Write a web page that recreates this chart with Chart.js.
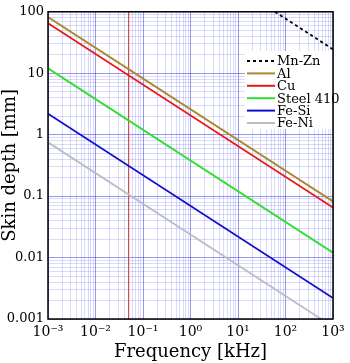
<!DOCTYPE html>
<html>
<head>
<meta charset="utf-8">
<script src="https://cdn.jsdelivr.net/npm/chart.js@4/dist/chart.umd.min.js"></script>
<style>
  html, body { margin: 0; padding: 0; background: #fff; }
  #wrap { width: 350px; height: 363px; }
</style>
</head>
<body>
<div id="wrap"><canvas id="skinChart"></canvas></div>
<script>
// skin depth [mm] vs frequency [kHz] (straight lines on log-log)
const materials = ['Mn-Zn', 'Al', 'Cu', 'Steel 410', 'Fe-Si', 'Fe-Ni'];
const freqMnZn = [60, 1000];
const depthMnZn = [100, 24.5];
const freqAl = [0.001, 1000];
const depthAl = [82, 0.082];
const freqCu = [0.001, 1000];
const depthCu = [65, 0.065];
const freqSteel = [0.001, 1000];
const depthSteel = [12, 0.012];
const freqFeSi = [0.001, 1000];
const depthFeSi = [2.2, 0.0022];
const freqFeNi = [0.001, 562];
const depthFeNi = [0.75, 0.001];
// 50 Hz marker
const markerFreq = [0.05, 0.05];
const markerDepth = [0.001, 100];

const xTickLabels = { '-3': '10⁻³', '-2': '10⁻²', '-1': '10⁻¹', '0': '10⁰', '1': '10¹', '2': '10²', '3': '10³' };
const yTickLabels = { '-3': '0.001', '-2': '0.01', '-1': '0.1', '0': '1', '1': '10', '2': '100' };

const toPoints = (xs, ys) => xs.map((x, i) => ({ x: x, y: ys[i] }));

function decadeTicks(minExp, maxExp) {
  const out = [];
  for (let e = minExp; e < maxExp; e++) {
    for (let s = 1; s <= 9; s++) out.push({ value: s * Math.pow(10, e) });
  }
  out.push({ value: Math.pow(10, maxExp) });
  return out;
}
const isDecade = v => Math.abs(Math.log10(v) - Math.round(Math.log10(v))) < 1e-9;

const serif = "'DejaVu Serif', serif";

// legend drawn inside the plot, top right, white box
const boxLegend = {
  id: 'boxLegend',
  afterDatasetsDraw(chart) {
    const ctx = chart.ctx;
    const area = chart.chartArea;
    ctx.save();
    ctx.fillStyle = '#fff';
    ctx.fillRect(245, 51, area.right - 245, 78);
    ctx.font = '13px ' + serif;
    ctx.textBaseline = 'middle';
    ctx.textAlign = 'left';
    chart.data.datasets.forEach((ds, i) => {
      if (ds.hideInLegend) return;
      const y = 61 + i * 12.4;
      ctx.strokeStyle = ds.borderColor;
      ctx.lineWidth = 2;
      ctx.setLineDash(ds.borderDash || []);
      ctx.beginPath();
      ctx.moveTo(247, y);
      ctx.lineTo(275, y);
      ctx.stroke();
      ctx.setLineDash([]);
      ctx.fillStyle = '#000';
      ctx.fillText(ds.label, 277, y + 1);
    });
    ctx.restore();
  },
  afterDraw(chart) {
    const a = chart.chartArea;
    const ctx = chart.ctx;
    ctx.save();
    ctx.strokeStyle = '#000';
    ctx.lineWidth = 1.5;
    ctx.strokeRect(a.left, a.top, a.right - a.left, a.bottom - a.top);
    ctx.restore();
  }
};

function line(label, xs, ys, color, extra) {
  return Object.assign({
    label: label,
    data: toPoints(xs, ys),
    borderColor: color,
    backgroundColor: color,
    borderWidth: 1.8,
    pointRadius: 0,
    fill: false,
    tension: 0
  }, extra || {});
}

const gridColor = c => isDecade(c.tick.value) ? 'rgba(50,50,230,0.5)' : 'rgba(70,70,230,0.2)';

new Chart(document.getElementById('skinChart').getContext('2d'), {
  type: 'line',
  data: {
    datasets: [
      line(materials[0], freqMnZn, depthMnZn, '#000', { borderDash: [3, 3] }),
      line(materials[1], freqAl, depthAl, '#a68a2c'),
      line(materials[2], freqCu, depthCu, '#e81818'),
      line(materials[3], freqSteel, depthSteel, '#2ee02e'),
      line(materials[4], freqFeSi, depthFeSi, '#1010cc'),
      line(materials[5], freqFeNi, depthFeNi, '#bdbdc4'),
      line('50 Hz', markerFreq, markerDepth, '#c83030', { borderWidth: 1, hideInLegend: true })
    ]
  },
  plugins: [boxLegend],
  options: {
    responsive: true,
    maintainAspectRatio: false,
    animation: false,
    layout: { padding: { top: 8, right: 17, left: 0, bottom: 0 } },
    plugins: {
      legend: { display: false },
      tooltip: { enabled: false }
    },
    scales: {
      x: {
        type: 'logarithmic',
        min: 0.001,
        max: 1000,
        afterBuildTicks: s => { s.ticks = decadeTicks(-3, 3); },
        afterFit: s => { s.height = 44; },
        border: { display: false },
        grid: { color: gridColor, lineWidth: 1, drawTicks: false },
        ticks: {
          autoSkip: false,
          maxRotation: 0,
          padding: 5,
          color: '#000',
          font: { family: serif, size: 14 },
          callback: v => isDecade(v) ? xTickLabels[String(Math.round(Math.log10(v)))] : ''
        },
        title: {
          display: true,
          text: 'Frequency [kHz]',
          color: '#000',
          font: { family: serif, size: 18 },
          padding: { top: 0, bottom: 0 }
        }
      },
      y: {
        type: 'logarithmic',
        min: 0.001,
        max: 100,
        afterBuildTicks: s => { s.ticks = decadeTicks(-3, 2); },
        afterFit: s => { s.width = 48; },
        border: { display: false },
        grid: { color: gridColor, lineWidth: 1, drawTicks: false },
        ticks: {
          autoSkip: false,
          padding: 4,
          color: '#000',
          font: { family: serif, size: 13 },
          callback: v => isDecade(v) ? yTickLabels[String(Math.round(Math.log10(v)))] : ''
        },
        title: {
          display: true,
          text: 'Skin depth [mm]',
          color: '#000',
          font: { family: serif, size: 18 },
          padding: { top: 0, bottom: 0 }
        }
      }
    }
  }
});
</script>
</body>
</html>
